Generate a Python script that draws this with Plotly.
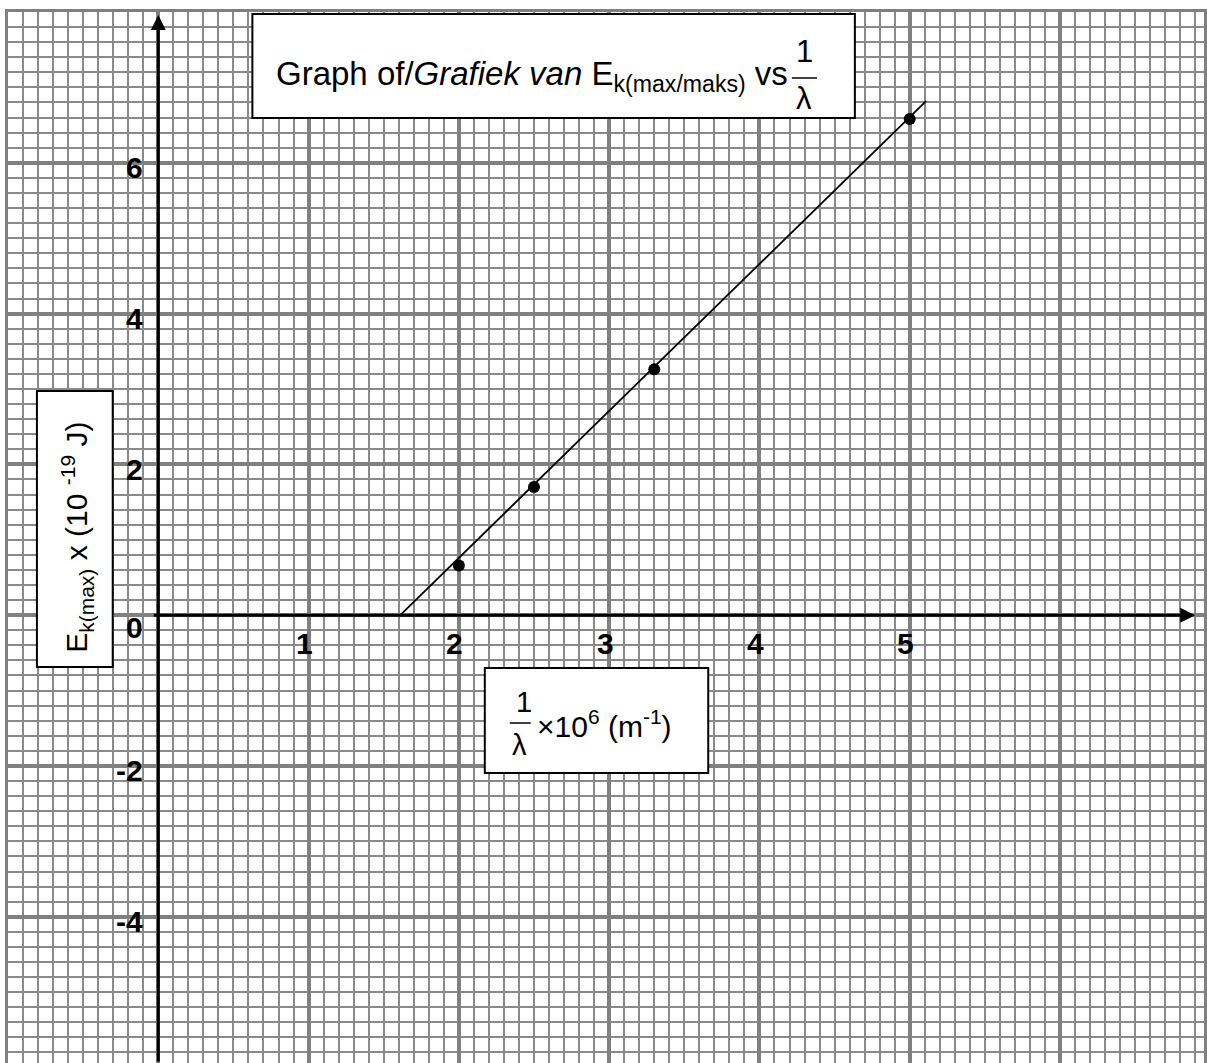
import plotly.graph_objects as go

# measured points: 1/lambda (x10^6 m^-1) against Ek(max) (x10^-19 J)
inv_wavelength = [2.0, 2.5, 3.3, 5.0]
ek_max = [0.66, 1.70, 3.26, 6.58]

# end points of the drawn line of best fit
fit_x = [1.61, 5.11]
fit_y = [0.0, 6.82]

x_tick_vals = [1, 2, 3, 4, 5]
y_tick_vals = [6, 4, 2, 0, -2, -4]

x_range = [-1.0, 6.958]
y_range = [-5.94, 8.0]

W, H = 1207, 1063
ML, MT = 8, 12
FONT = "Liberation Sans, Arial, sans-serif"


def px(x):
    # page pixel -> paper x
    return (x - ML) / (W - ML)


def py(y):
    # page pixel -> paper y
    return 1 - (y - MT) / (H - MT)


fig = go.Figure()

fig.add_trace(go.Scatter(x=fit_x, y=fit_y, mode='lines',
                         line=dict(color='black', width=1.8), showlegend=False))
fig.add_trace(go.Scatter(x=inv_wavelength, y=ek_max, mode='markers',
                         marker=dict(color='black', size=12), showlegend=False))

grid_major = '#808080'
grid_minor = '#8a8a8a'

fig.update_xaxes(range=x_range, tick0=0, dtick=1, showgrid=True,
                 gridcolor=grid_major, gridwidth=3.5,
                 minor=dict(dtick=0.1, tick0=0, showgrid=True, gridcolor=grid_minor, gridwidth=2),
                 showticklabels=False, ticks='', zeroline=False,
                 showline=True, linecolor=grid_major, linewidth=3, mirror=True)
fig.update_yaxes(range=y_range, tick0=0, dtick=2, showgrid=True,
                 gridcolor=grid_major, gridwidth=3.5,
                 minor=dict(dtick=0.2, tick0=0, showgrid=True, gridcolor=grid_minor, gridwidth=2),
                 showticklabels=False, ticks='', zeroline=False,
                 showline=True, linecolor=grid_major, linewidth=3, mirror=True)

# axes with arrow heads
fig.add_annotation(x=0, y=7.96, ax=0, ay=y_range[0], xref='x', yref='y', axref='x', ayref='y',
                   text='', showarrow=True, arrowhead=2, arrowsize=1, arrowwidth=3, arrowcolor='black')
fig.add_annotation(x=6.9, y=0, ax=-0.04, ay=0, xref='x', yref='y', axref='x', ayref='y',
                   text='', showarrow=True, arrowhead=2, arrowsize=1, arrowwidth=3, arrowcolor='black')

# tick labels
for v in x_tick_vals:
    fig.add_annotation(x=v, y=0, xref='x', yref='y', text=f"<b>{v}</b>", showarrow=False,
                       xanchor='center', yanchor='middle', xshift=-4, yshift=-28,
                       font=dict(family=FONT, size=30, color='black'))
for v in y_tick_vals:
    fig.add_annotation(x=0, y=v, xref='x', yref='y', text=f"<b>{v}</b>", showarrow=False,
                       xanchor='right', yanchor='middle', xshift=-13, yshift=-12 if v == 0 else -5,
                       font=dict(family=FONT, size=30, color='black'))

# boxes
box = dict(type='rect', xref='paper', yref='paper', fillcolor='white',
           line=dict(color='black', width=2), layer='above')
fig.add_shape(x0=px(253), x1=px(857), y0=py(14), y1=py(118), **box)
fig.add_shape(x0=px(486), x1=px(710), y0=py(668), y1=py(773), **box)
fig.add_shape(x0=px(37), x1=px(113), y0=py(391), y1=py(667), **box)

bar = dict(type='line', xref='paper', yref='paper', line=dict(color='black', width=1.5), layer='above')
mid = dict(xref='paper', yref='paper', xanchor='center', yanchor='middle', showarrow=False)

# title
fig.add_annotation(x=px(275), y=py(76), xref='paper', yref='paper', xanchor='left', yanchor='middle',
                   text="Graph of/<i>Grafiek van</i> E<sub>k(max/maks)</sub> vs", showarrow=False,
                   font=dict(family=FONT, size=33, color='black'))
fig.add_annotation(x=px(806), y=py(51), text="1", font=dict(family=FONT, size=31, color='black'), **mid)
fig.add_shape(x0=px(794), x1=px(819), y0=py(78), y1=py(78), **bar)
fig.add_annotation(x=px(806), y=py(99), text="λ", font=dict(family=FONT, size=31, color='black'), **mid)

# x axis label
fig.add_annotation(x=px(525), y=py(702), text="1", font=dict(family=FONT, size=29, color='black'), **mid)
fig.add_shape(x0=px(511), x1=px(532), y0=py(723), y1=py(723), **bar)
fig.add_annotation(x=px(521), y=py(745), text="λ", font=dict(family=FONT, size=29, color='black'), **mid)
fig.add_annotation(x=px(536), y=py(724), xref='paper', yref='paper', xanchor='left', yanchor='middle',
                   text="×10<sup>6</sup> (m<sup>-1</sup>)", showarrow=False,
                   font=dict(family=FONT, size=30, color='black'))

# y axis label
fig.add_annotation(x=px(77), y=py(537), textangle=-90,
                   text="E<sub>k(max)</sub> x (10 <sup>-19</sup> J)",
                   font=dict(family=FONT, size=30, color='black'), **mid)

fig.update_layout(width=W, height=H, margin=dict(l=ML, r=0, t=MT, b=0),
                  paper_bgcolor='white', plot_bgcolor='white', showlegend=False)

fig.write_html("out.html", config={'displayModeBar': False},
               post_script="document.body.style.margin='0px';")
